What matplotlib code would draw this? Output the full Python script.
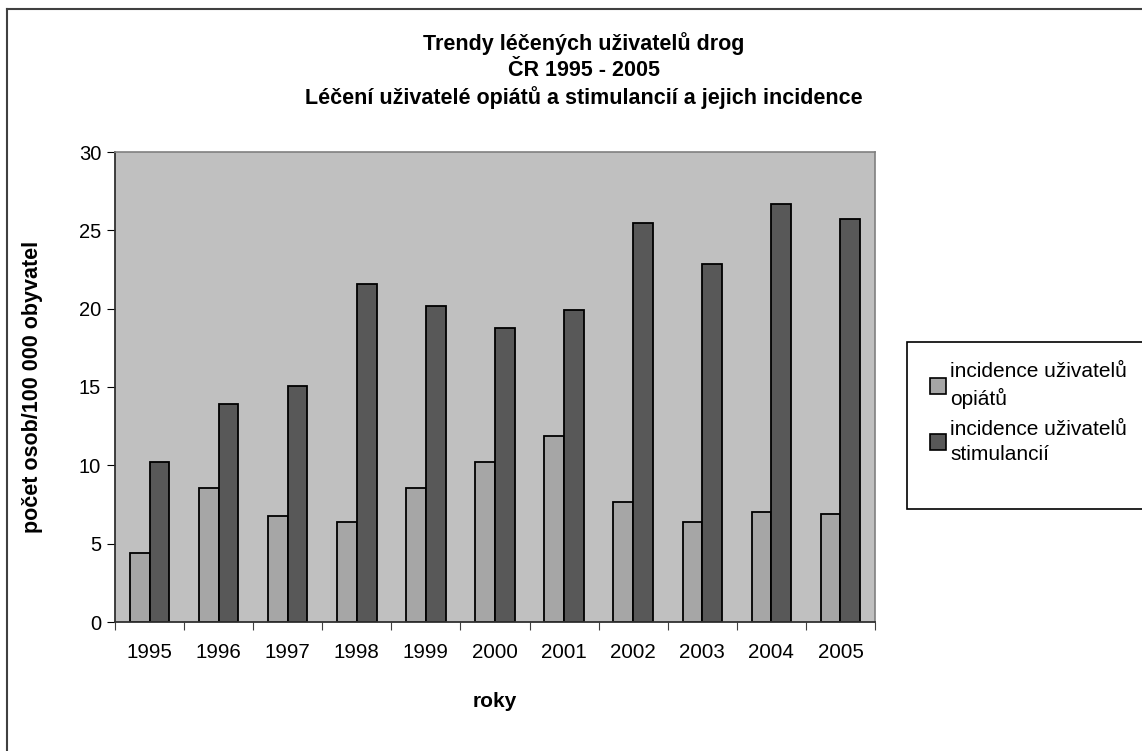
import matplotlib
matplotlib.use("Agg")
import matplotlib.pyplot as plt
import numpy as np
from matplotlib.patches import Rectangle, Patch
from matplotlib.lines import Line2D

plt.rcParams['font.family'] = ['Liberation Sans', 'DejaVu Sans']

years = ['1995', '1996', '1997', '1998', '1999', '2000',
         '2001', '2002', '2003', '2004', '2005']
opiaty = [4.4, 8.55, 6.75, 6.4, 8.55, 10.2, 11.85, 7.65, 6.4, 7.0, 6.9]
stimulancia = [10.2, 13.9, 15.05, 21.55, 20.15, 18.75, 19.9, 25.5, 22.85, 26.65, 25.75]
labels = ['incidence uživatelů\nopiátů', 'incidence uživatelů\nstimulancií']
colors = ['#a6a6a6', '#585858']

W, H = 1142, 751
fig = plt.figure(figsize=(W / 100, H / 100), dpi=100)

# outer frame (only left and top edges are visible in the crop)
fig.add_artist(Line2D([7 / W, 7 / W], [0, 1 - 9 / H], transform=fig.transFigure, color='#404040', lw=1.5))
fig.add_artist(Line2D([7 / W, 1], [1 - 9 / H, 1 - 9 / H], transform=fig.transFigure, color='#404040', lw=1.5))

ax = fig.add_axes([115 / W, (H - 622) / H, 760 / W, 470 / H])
ax.set_facecolor('#c0c0c0')

x = np.arange(len(years))
w = 0.285
ax.bar(x - w / 2, opiaty, w, color=colors[0], edgecolor='black', linewidth=1.3)
ax.bar(x + w / 2, stimulancia, w, color=colors[1], edgecolor='black', linewidth=1.3)

ax.set_xlim(-0.5, len(years) - 0.5)
ax.set_ylim(0, 30)
ax.set_yticks(np.arange(0, 31, 5))
ax.set_xticks(np.arange(-0.5, len(years), 1))
ax.set_xticklabels([])
ax.set_xticks(x, minor=True)
ax.set_xticklabels(years, minor=True)
ax.tick_params(axis='x', which='minor', length=0, pad=15, labelsize=14.8)
ax.tick_params(axis='x', which='major', length=6, direction='out', color='#404040')
ax.tick_params(axis='y', length=6, direction='out', labelsize=14.5, pad=4)

for s in ['top', 'right']:
    ax.spines[s].set_color('#808080')
    ax.spines[s].set_linewidth(1.2)
for s in ['left', 'bottom']:
    ax.spines[s].set_color('#303030')
    ax.spines[s].set_linewidth(1.3)

ax.set_xlabel('roky', fontsize=15, fontweight='bold', labelpad=22)
ax.set_ylabel('počet osob/100 000 obyvatel', fontsize=15.5, fontweight='bold', labelpad=26)

cx = 584 / W
fig.text(cx, 1 - 44 / H, 'Trendy léčených uživatelů drog',
         ha='center', va='center', fontsize=15.5, fontweight='bold')
fig.text(cx, 1 - 71 / H, 'ČR 1995 - 2005',
         ha='center', va='center', fontsize=15.5, fontweight='bold')
fig.text(cx, 1 - 98 / H, 'Léčení uživatelé opiátů a stimulancií a jejich incidence',
         ha='center', va='center', fontsize=15.5, fontweight='bold')

# legend box
fig.add_artist(Rectangle((907 / W, 1 - 509 / H), 300 / W, 167 / H, transform=fig.transFigure,
                         facecolor='white', edgecolor='black', lw=1.2))
handles = [Patch(facecolor=c, edgecolor='black', linewidth=1.2) for c in colors]
leg = fig.legend(handles, labels, loc='upper left', bbox_to_anchor=(920 / W, 1 - 352 / H),
                 frameon=False, fontsize=15, handlelength=0.75, handleheight=0.75,
                 handletextpad=0.2, labelspacing=0.5, borderpad=0)
for t in leg.get_texts():
    t.set_linespacing(1.4)

fig.savefig('out.png', dpi=100)
